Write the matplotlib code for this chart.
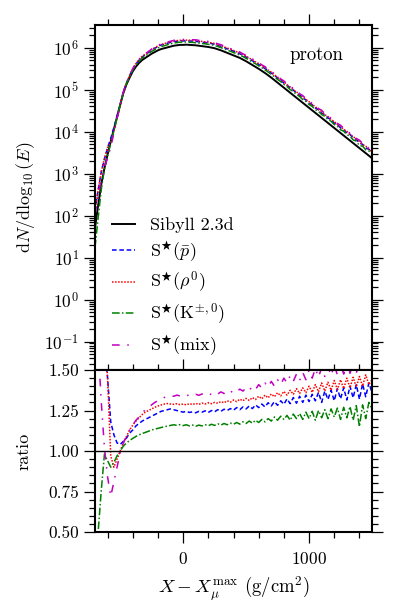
import numpy as np
import matplotlib
matplotlib.use("Agg")
import matplotlib.pyplot as plt
from matplotlib.ticker import MultipleLocator, LogLocator, NullFormatter

plt.rcParams['font.family'] = 'serif'
plt.rcParams['font.serif'] = ['cmr10']
plt.rcParams['mathtext.fontset'] = 'cm'
plt.rcParams['axes.formatter.use_mathtext'] = True
plt.rcParams['font.size'] = 13

# depth relative to muon shower maximum (g/cm^2)
depth = np.arange(-700, 1501, 25)

# Sibyll 2.3d, log10(dN/dlog10 E)
sibyll_log = [1.7, 2.25, 2.75, 3.13, 3.46, 3.77, 4.06, 4.35, 4.64, 4.92, 5.13, 5.29, 5.44, 5.55,
              5.64, 5.71, 5.76, 5.81, 5.86, 5.90, 5.94, 5.97, 5.99, 6.01, 6.03, 6.05, 6.06, 6.07,
              6.07, 6.075, 6.07, 6.065, 6.06, 6.05, 6.04, 6.03, 6.02, 6.005, 5.99, 5.965, 5.94,
              5.91, 5.88, 5.85, 5.82, 5.79, 5.76, 5.72, 5.68, 5.635, 5.59, 5.545, 5.50, 5.45,
              5.40, 5.345, 5.29, 5.23, 5.17, 5.11, 5.05, 4.99, 4.93, 4.87, 4.81, 4.75, 4.69,
              4.63, 4.57, 4.51, 4.45, 4.39, 4.33, 4.27, 4.21, 4.15, 4.09, 4.03, 3.97, 3.91,
              3.85, 3.79, 3.73, 3.67, 3.61, 3.55, 3.49, 3.43, 3.37]

# ratios to Sibyll 2.3d
ratio_pbar = [2.6, 2.3, 2.0, 1.65, 1.45, 1.18, 1.10, 1.05, 1.04, 1.06, 1.08, 1.11, 1.13, 1.155,
              1.17, 1.185, 1.195, 1.205, 1.215, 1.225, 1.235, 1.245, 1.25, 1.255, 1.26, 1.255,
              1.25, 1.245, 1.24, 1.245, 1.238, 1.242, 1.236, 1.245, 1.24, 1.248, 1.238, 1.25,
              1.242, 1.255, 1.245, 1.258, 1.25, 1.262, 1.252, 1.268, 1.255, 1.272, 1.26, 1.278,
              1.262, 1.285, 1.268, 1.29, 1.272, 1.298, 1.278, 1.305, 1.282, 1.31, 1.288, 1.322,
              1.292, 1.33, 1.295, 1.338, 1.30, 1.345, 1.305, 1.35, 1.31, 1.362, 1.30, 1.37,
              1.318, 1.375, 1.31, 1.385, 1.322, 1.39, 1.315, 1.40, 1.328, 1.41, 1.32, 1.415,
              1.335, 1.42, 1.36]
ratio_rho = [2.6, 2.3, 2.0, 1.75, 1.45, 0.97, 0.90, 0.95, 1.00, 1.05, 1.09, 1.13, 1.16, 1.185,
             1.205, 1.225, 1.24, 1.25, 1.26, 1.27, 1.278, 1.284, 1.29, 1.293, 1.29, 1.288,
             1.292, 1.286, 1.29, 1.285, 1.292, 1.287, 1.294, 1.288, 1.296, 1.29, 1.298, 1.292,
             1.30, 1.295, 1.305, 1.298, 1.31, 1.302, 1.315, 1.305, 1.32, 1.31, 1.325, 1.312,
             1.33, 1.318, 1.338, 1.322, 1.345, 1.328, 1.352, 1.335, 1.36, 1.34, 1.368, 1.345,
             1.375, 1.35, 1.385, 1.355, 1.39, 1.36, 1.40, 1.362, 1.41, 1.365, 1.42, 1.37,
             1.425, 1.375, 1.435, 1.38, 1.44, 1.385, 1.45, 1.39, 1.455, 1.395, 1.46, 1.40,
             1.47, 1.41, 1.44]
ratio_kaon = [0.35, 0.5, 0.76, 0.98, 0.94, 0.90, 0.93, 0.97, 1.00, 1.03, 1.05, 1.065, 1.078,
              1.09, 1.10, 1.108, 1.115, 1.122, 1.13, 1.135, 1.14, 1.145, 1.15, 1.154, 1.158,
              1.162, 1.158, 1.163, 1.157, 1.162, 1.155, 1.16, 1.153, 1.16, 1.155, 1.162, 1.156,
              1.165, 1.158, 1.168, 1.16, 1.17, 1.162, 1.172, 1.165, 1.176, 1.166, 1.18, 1.17,
              1.185, 1.172, 1.19, 1.176, 1.195, 1.18, 1.20, 1.185, 1.21, 1.19, 1.215, 1.195,
              1.22, 1.19, 1.228, 1.20, 1.232, 1.195, 1.24, 1.20, 1.245, 1.19, 1.25, 1.205,
              1.255, 1.20, 1.26, 1.21, 1.265, 1.195, 1.27, 1.205, 1.275, 1.19, 1.28, 1.15,
              1.285, 1.20, 1.30, 1.26]
ratio_mix = [2.2, 1.65, 1.3, 1.02, 0.84, 0.72, 0.81, 0.90, 0.99, 1.05, 1.09, 1.13, 1.16, 1.19,
             1.21, 1.235, 1.255, 1.27, 1.285, 1.30, 1.31, 1.32, 1.33, 1.338, 1.342, 1.338,
             1.345, 1.34, 1.346, 1.34, 1.348, 1.342, 1.35, 1.344, 1.352, 1.346, 1.356, 1.348,
             1.36, 1.352, 1.365, 1.355, 1.37, 1.36, 1.375, 1.365, 1.382, 1.37, 1.39, 1.375,
             1.398, 1.38, 1.41, 1.388, 1.42, 1.395, 1.43, 1.40, 1.44, 1.41, 1.45, 1.42, 1.465,
             1.43, 1.475, 1.435, 1.485, 1.44, 1.50, 1.45, 1.51, 1.455, 1.515, 1.46, 1.52,
             1.465, 1.53, 1.47, 1.535, 1.475, 1.54, 1.48, 1.545, 1.48, 1.55, 1.485, 1.55,
             1.49, 1.52]

labels = ['Sibyll 2.3d', r'S$^{\bigstar}(\bar{p})$', r'S$^{\bigstar}(\rho^0)$',
          r'S$^{\bigstar}(\mathrm{K}^{\pm,0})$', r'S$^{\bigstar}(\mathrm{mix})$']
colors = ['k', 'b', 'r', 'g', 'm']
styles = ['-', (0, (3, 1.8)), (0, (1, 1)), (0, (5, 1.5, 1, 1.5)), (0, (5, 5, 1, 5))]
decades = [1e-1, 1e0, 1e1, 1e2, 1e3, 1e4, 1e5, 1e6]

sibyll = 10 ** np.array(sibyll_log)
ratios = [np.array(ratio_pbar), np.array(ratio_rho), np.array(ratio_kaon), np.array(ratio_mix)]

fig = plt.figure(figsize=(3.98, 6.11), dpi=100)
ax1 = fig.add_axes([0.2387, 0.3944, 0.696, 0.5647])
ax2 = fig.add_axes([0.2387, 0.1293, 0.696, 0.2651])

ax1.plot(depth, sibyll, color=colors[0], ls=styles[0], lw=1.4, label=labels[0])
for r, c, s, lab in zip(ratios, colors[1:], styles[1:], labels[1:]):
    ax1.plot(depth, sibyll * r, color=c, ls=s, lw=1.1, label=lab)
    ax2.plot(depth, r, color=c, ls=s, lw=1.1)
ax2.axhline(1.0, color='k', lw=1.0)

ax1.set_yscale('log')
ax1.set_ylim(0.021, 3.5e6)
ax1.set_yticks(decades)
ax1.yaxis.set_minor_locator(LogLocator(base=10, subs=np.arange(2, 10), numticks=20))
ax1.yaxis.set_minor_formatter(NullFormatter())
ax1.set_ylabel(r'$\mathrm{d}N/\mathrm{d}\log_{10}(E)$', fontsize=13)
ax1.text(0.895, 0.913, 'proton', transform=ax1.transAxes, ha='right', va='center', fontsize=13.5)
ax1.legend(loc='lower left', bbox_to_anchor=(0.06, 0.035), frameon=False, borderpad=0,
           borderaxespad=0, handlelength=1.3, handletextpad=0.85, labelspacing=0.36,
           fontsize=13)

ax2.set_ylim(0.5, 1.5)
ax2.yaxis.set_major_locator(MultipleLocator(0.25))
ax2.yaxis.set_minor_locator(MultipleLocator(0.05))
ax2.yaxis.set_major_formatter(plt.FormatStrFormatter('%.2f'))
ax2.set_ylabel('ratio', fontsize=13)
ax2.set_xlabel(r'$X - X_\mu^{\max}$ (g/cm$^2$)', fontsize=13.5, labelpad=5)

for ax in (ax1, ax2):
    ax.set_xlim(-700, 1500)
    ax.xaxis.set_major_locator(MultipleLocator(1000))
    ax.xaxis.set_minor_locator(MultipleLocator(200))
    ax.tick_params(which='both', direction='out', top=True, right=True, width=0.9)
    ax.tick_params(which='major', length=8, labelsize=12.5)
    ax.tick_params(which='minor', length=4)
    ax.tick_params(axis='x', which='major', pad=6)
    for sp in ax.spines.values():
        sp.set_linewidth(1.5)
ax1.tick_params(which='both', bottom=False, labelbottom=False)
ax1.yaxis.set_label_coords(-0.21, 0.5)
ax2.yaxis.set_label_coords(-0.23, 0.5)

fig.savefig('out.png', dpi=100)
